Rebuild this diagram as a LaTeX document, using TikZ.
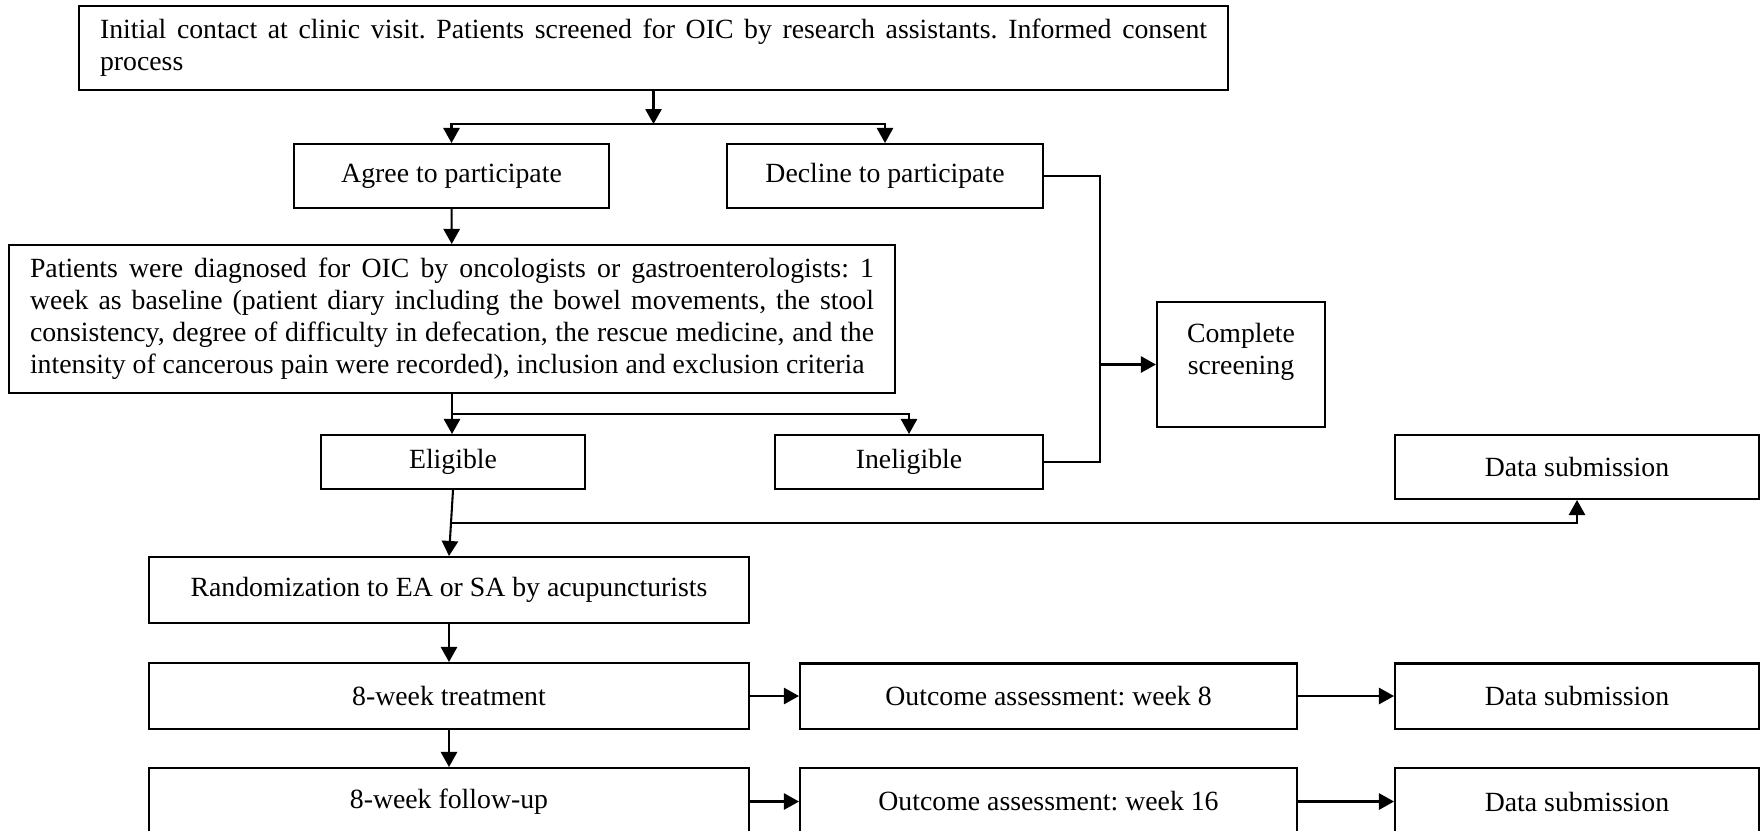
\documentclass[tikz,border=0pt]{standalone}
\usepackage{fontspec}
\setmainfont{Liberation Serif}
\frenchspacing
\usetikzlibrary{positioning,calc,arrows.meta}
\tikzset{
    box/.style={draw, line width=0.9pt, inner sep=0pt, font=\fontsize{12}{13.8}\selectfont},
    flow/.style={line width=0.9pt, -{Triangle[length=6.5pt,width=7pt]}},
    link/.style={line width=0.9pt}
}
\begin{document}
\begin{tikzpicture}[x=0.432pt, y=-0.432pt]
\useasboundingbox (0,0) rectangle (1764,830);
\clip (0,0) rectangle (1764,830);

\node (ini) [box, minimum width=496.4pt, minimum height=36.3pt, text width=478.2pt, align=justify] at (653.5,48) {Initial contact at clinic visit. Patients screened for OIC by research assistants. Informed consent\linebreak process};
\node (agree) [box, minimum width=136.1pt, minimum height=27.6pt] at (451.5,176) {Agree to participate};
\node (decl) [box, minimum width=136.5pt, minimum height=27.6pt] at (885,176) {Decline to participate};
\node (diag) [box, minimum width=382.8pt, minimum height=63.9pt, text width=364.6pt, align=justify] at (452,319) {Patients were diagnosed for OIC by oncologists or gastroenterologists: 1\linebreak week as baseline (patient diary including the bowel movements, the stool\linebreak consistency, degree of difficulty in defecation, the rescue medicine, and the\linebreak intensity of cancerous pain were recorded), inclusion and exclusion criteria};
\node (elig) [box, minimum width=114pt, minimum height=23.3pt] at (453,462) {Eligible};
\node (inel) [box, minimum width=115.8pt, minimum height=23.3pt] at (909,462) {Ineligible};
\node (comp) [box, minimum width=72.6pt, minimum height=54pt,
    label={[align=center, anchor=north, yshift=-6pt, font=\fontsize{12}{13.8}\selectfont]north:Complete\\screening}] at (1241,364.5) {};
\node (sub1) [box, minimum width=157.2pt, minimum height=27.6pt] at (1577,467) {Data submission};
\node (rand) [box, minimum width=259.2pt, minimum height=28.5pt] at (449,590) {Randomization to EA or SA by acupuncturists};
\node (treat) [box, minimum width=259.2pt, minimum height=28.5pt] at (449,696) {8-week treatment};
\node (foll) [box, minimum width=259.2pt, minimum height=28.9pt] at (449,801.5) {8-week follow-up};
\node (out8) [box, minimum width=214.7pt, minimum height=28.1pt] at (1048.5,696) {Outcome assessment: week 8};
\node (out16) [box, minimum width=214.7pt, minimum height=28.9pt] at (1048.5,801.5) {Outcome assessment: week 16};
\node (sub2) [box, minimum width=157.2pt, minimum height=28.1pt] at (1577,696) {Data submission};
\node (sub3) [box, minimum width=157.2pt, minimum height=28.9pt] at (1577,801.5) {Data submission};

\coordinate (s1) at ($(ini.south)+(0,33)$);
\draw [flow] (ini.south) -- (s1);
\draw [flow] (s1) -| (agree.north);
\draw [flow] (s1) -| (decl.north);
\draw [flow] (agree) -- (diag);

\coordinate (s2) at ($(diag.south)+(0,20)$);
\draw [flow] (diag.south) -- (diag.south |- elig.north);
\draw [flow] (s2) -| (inel.north);

\coordinate (r) at ($(decl.east)+(56,0)$);
\draw [link] (decl.east) -- (r) |- (inel.east);
\draw [flow] (r |- comp.west) -- (comp.west);

\draw [flow] (elig.south) -- (rand.north);
\coordinate (s3) at ($(elig.south)!0.5!(rand.north)$);
\draw [flow] (s3) -| (sub1.south);

\draw [flow] (rand) -- (treat);
\draw [flow] (treat) -- (foll);
\draw [flow] (treat) -- (out8);
\draw [flow] (out8) -- (sub2);
\draw [flow] (foll) -- (out16);
\draw [flow] (out16) -- (sub3);

\end{tikzpicture}
\end{document}
